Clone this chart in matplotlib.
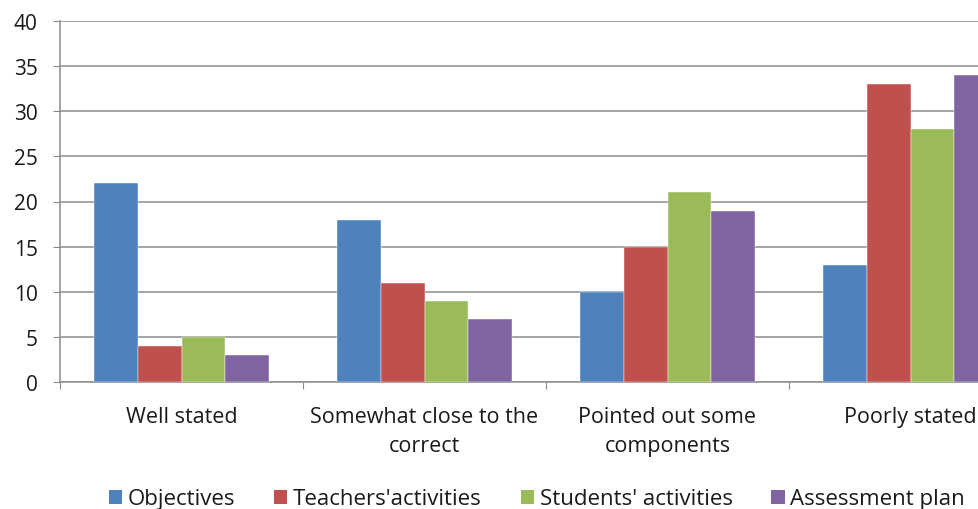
import numpy as np
import matplotlib.pyplot as plt
from matplotlib.patches import Patch

categories = ["Well stated", "Somewhat close to the\ncorrect",
              "Pointed out some\ncomponents", "Poorly stated"]
series_names = ["Objectives", "Teachers'activities",
                "Students' activities", "Assessment plan"]
objectives = [22, 18, 10, 13]
teachers = [4, 11, 15, 33]
students = [5, 9, 21, 28]
assessment = [3, 7, 19, 34]
y_ticks = [0, 5, 10, 15, 20, 25, 30, 35, 40]

colors = ["#4F81BD", "#C0504D", "#9BBB59", "#8064A2"]
grid_color = "#8C8C8C"

plt.rcParams["font.family"] = ["Open Sans", "DejaVu Sans"]

fig = plt.figure(figsize=(9.79, 5.10), dpi=100)
W, H = 979, 510
# plot area runs past the right edge, so the last group is cut off
ax = fig.add_axes([60 / W, 1 - 383 / H, 972 / W, 361 / H])

values = [objectives, teachers, students, assessment]
x = np.arange(len(categories))
bar_w = 0.181
for i, (name, vals) in enumerate(zip(series_names, values)):
    offs = (i - 1.5) * bar_w
    ax.bar(x + offs, vals, width=bar_w, color=colors[i], label=name,
           edgecolor="white", linewidth=0.3, zorder=3)

ax.set_xlim(-0.5, len(categories) - 0.5)
ax.set_ylim(0, 40)
ax.set_yticks(y_ticks)
ax.tick_params(axis="y", length=5, color=grid_color, labelsize=15,
               pad=11, labelcolor="#1a1a1a")
ax.yaxis.grid(True, color=grid_color, linewidth=1.1, zorder=0)
ax.set_axisbelow(True)

# category boundary ticks below the axis, labels centered on groups
ax.set_xticks(np.arange(len(categories) + 1) - 0.5)
ax.set_xticklabels([])
ax.tick_params(axis="x", length=5, color=grid_color)
ax.set_xticks(x, minor=True)
ax.set_xticklabels(categories, minor=True, fontsize=15.5, color="#1a1a1a")
ax.tick_params(axis="x", which="minor", length=0, pad=17)
for lbl in ax.get_xticklabels(minor=True):
    lbl.set_linespacing(1.55)

for side in ["top", "right"]:
    ax.spines[side].set_visible(False)
for side in ["left", "bottom"]:
    ax.spines[side].set_color(grid_color)
    ax.spines[side].set_linewidth(1.1)

handles = [Patch(facecolor=c, edgecolor="none") for c in colors]
leg = fig.legend(handles, series_names, loc="center", ncol=4,
                 bbox_to_anchor=(537 / W, 1 - 500 / H), frameon=False,
                 fontsize=16, handlelength=0.6, handleheight=0.6,
                 handletextpad=0.25, columnspacing=1.75)
for t in leg.get_texts():
    t.set_color("#1a1a1a")

fig.savefig("out.png", dpi=100)
